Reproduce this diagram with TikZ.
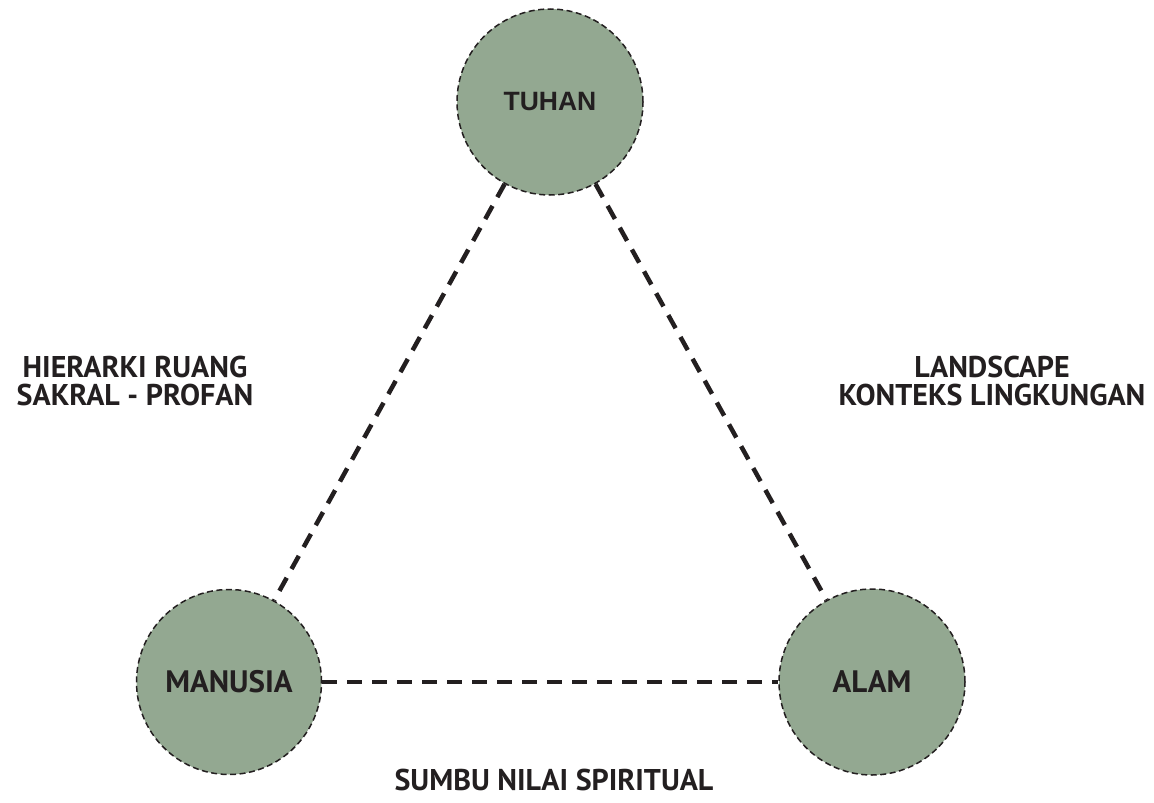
\documentclass[tikz,border=0pt]{standalone}
\usepackage{fontspec}
\setmainfont{PT Sans}
\newfontfamily\arialb{Liberation Sans}[BoldFont={* Bold}]
\definecolor{sage}{RGB}{147,168,145}
\definecolor{ink}{RGB}{35,31,32}
\begin{document}
\begin{tikzpicture}[x=1pt,y=-1pt,
  circ/.style={circle, fill=sage, draw=ink, line width=1.5pt, dash pattern=on 6pt off 3.5pt, inner sep=0pt, text=ink},
  conn/.style={draw=ink, line width=4.5pt, dash pattern=on 15pt off 10pt},
  lbl/.style={text=ink, font=\fontsize{30}{28}\selectfont\bfseries, align=center, inner sep=0pt}]
\useasboundingbox (0,0) rectangle (1154,803);
\node[circ, minimum size=186pt, font=\arialb\fontsize{26.5}{30}\selectfont\bfseries] (t) at (550,102) {TUHAN};
\node[circ, minimum size=185pt, font=\fontsize{31}{30}\selectfont\bfseries] (m) at (229,682) {MANUSIA};
\node[circ, minimum size=186pt, font=\fontsize{31}{30}\selectfont\bfseries] (a) at (872,682) {ALAM};
\draw[conn] (t) -- (m);
\draw[conn] (t) -- (a);
\draw[conn] (m) -- (a);
\node[lbl] (l1) at (135,381) {HIERARKI RUANG\\SAKRAL - PROFAN};
\node[lbl] (l2) at (992,381) {LANDSCAPE\\KONTEKS LINGKUNGAN};
\node[lbl] (l3) at (554,780) {SUMBU NILAI SPIRITUAL};
\end{tikzpicture}
\end{document}
